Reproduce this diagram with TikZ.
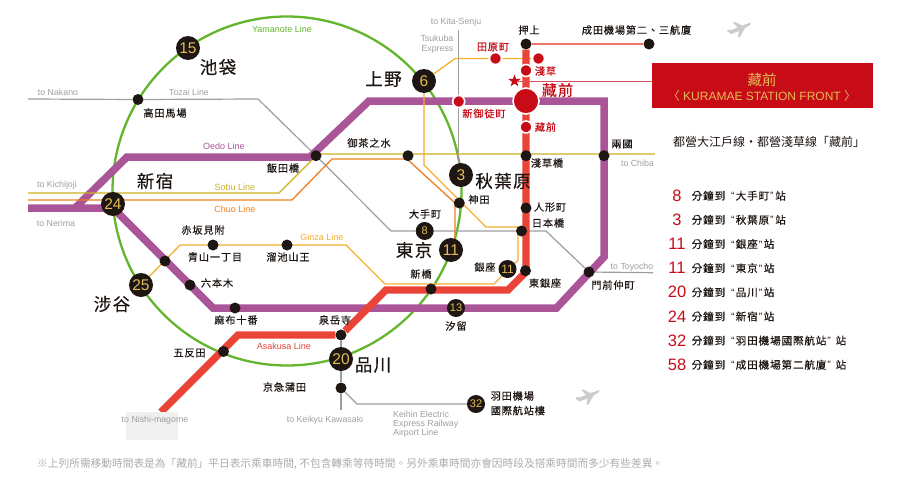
\documentclass[tikz,border=0pt]{standalone}
\usepackage{fontspec}
\setmainfont{Liberation Sans}
\newfontfamily\cjkfont[LetterSpace=8,FakeBold=0.4]{Noto Sans CJK TC}
\newfontfamily\cjkplain{Noto Sans CJK TC}
\usetikzlibrary{shapes.geometric,positioning,backgrounds}

\newcommand{\fsz}[1]{\fontsize{#1}{#1}\selectfont}
\newcommand{\oq}{\hspace{6pt}{\rmfamily “}\hspace{1pt}}
\newcommand{\cq}{\hspace{1pt}{\rmfamily ”}\hspace{1.5pt}}

\definecolor{oedocol}{HTML}{AA5598}
\definecolor{asakusacol}{HTML}{EA4338}
\definecolor{yamanotecol}{HTML}{62B52D}
\definecolor{sobucol}{HTML}{C9B11F}
\definecolor{chuocol}{HTML}{EE7F1E}
\definecolor{ginzacol}{HTML}{F6AE2D}
\definecolor{tozaicol}{HTML}{9E9E9E}
\definecolor{stopcol}{HTML}{1E1613}
\definecolor{kuramaecol}{HTML}{C70B17}
\definecolor{goldcol}{HTML}{E3BC55}
\definecolor{notecol}{HTML}{ABABAB}

\tikzset{
  trackline/.style={line width=#1, line join=miter},
  stop/.style={circle, fill=stopcol, inner sep=0pt, minimum size=11pt},
  redstop/.style={circle, fill=kuramaecol, draw=white, line width=1.6pt, inner sep=0pt, minimum size=#1},
  minutestop/.style={circle, fill=stopcol, text=goldcol, inner sep=0pt, font=\fsz{15.5}, minimum size=24pt},
  smallminute/.style={minutestop, font=\fsz{11}, minimum size=18pt},
  arealabel/.style={text=stopcol, inner sep=0pt, font=\fsz{17.5}\cjkfont},
  stoplabel/.style={text=stopcol, inner sep=0pt, font=\fsz{10.2}\cjkfont},
  redlabel/.style={text=kuramaecol, inner sep=0pt, font=\fsz{10.2}\cjkfont},
  grayname/.style={text=tozaicol, inner sep=0pt, font=\fsz{8.8}},
  linename/.style={inner sep=0pt, font=\fsz{9}},
  planeicon/.pic={
    \fill[gray!40] (12,-6.5) -- (3,-3.5) -- (-4,-7) -- (-6,-6.5) -- (-1.5,-1.5) -- (-7.5,1)
      -- (-11,0.5) -- (-12,2) -- (-8,5) -- (0,2) -- (-1,8) -- (1,8) -- (6,-1) -- (11,-4) -- cycle;
  }
}

\begin{document}
\begin{tikzpicture}[x=1pt,y=-1pt]
\useasboundingbox (0,0) rectangle (900,485);

% Stations with minutes
\node[minutestop] (ikebukuro) at (188,48) {15};
\node[minutestop] (shinjuku) at (113,204) {24};
\node[minutestop] (shibuya) at (141,285) {25};
\node[minutestop] (shinagawa) at (341,359) {20};
\node[minutestop] (ueno) at (424,81) {6};
\node[minutestop] (akihabara) at (461,175) {3};
\node[minutestop] (tokyo) at (451,250) {11};
\node[smallminute] (otemachi) at (424.7,231) {8};
\node[smallminute, font=\fsz{12}] (ginza) at (507.5,269) {11};
\node[smallminute] (shiodome) at (456,308) {13};
\node[smallminute] (haneda) at (476,404) {32};

% Plain stations
\foreach \n/\x/\y in {takadanobaba/138/99.5, iidabashi/316/155.7, ochanomizu/408/155.7,
    asakusabashi/526/155.7, ryogoku/604/155.7, kanda/459.3/203, ningyocho/526/208,
    nihombashi/521.5/231, higashiginza/525.5/270.7, shimbashi/431/289, monzen/589/272,
    sengakuji/341/335, gotanda/223.5/351.5, kamata/341/388, azabu/235/308,
    roppongi/190/285, aoyama/165/261, akasaka/213/245, tameike/287/245,
    oshiage/526/44, naritastop/649/44}
  \node[stop] (\n) at (\x,\y) {};

% Red stations around Kuramae
\node[redstop=26pt] (kuramaebig) at (526,101) {};
\node[redstop=12pt] (kuramaesmall) at (526,127) {};
\node[redstop=12pt] (asakusa) at (526,70.5) {};
\node[redstop=12pt] (shinokachi) at (458.7,101.5) {};
\node[redstop=12pt] (tawaramachi) at (495.5,58.5) {};
\node[redstop=12pt] (asakusaginza) at (538.5,58.5) {};
\node[star, star points=5, star point ratio=2.5, fill=kuramaecol, inner sep=0pt, minimum size=13pt] (kuramaestar) at (514.5,81) {};

% Bend points
\coordinate (oedoa) at (28,208);
\coordinate (oedob) at (75,208);
\coordinate (oedoc) at (127,157);
\coordinate (oedod) at (310,157);
\coordinate (oedoe) at (369,101);
\coordinate (oedof) at (604,101);
\coordinate (oedog) at (604,257);
\coordinate (oedoh) at (556.5,308);
\coordinate (oedoi) at (213,308);
\coordinate (oedoj) at (113,208);
\coordinate (asakusaa) at (161,412);
\coordinate (asakusab) at (238,335);
\coordinate (asakusac) at (386,290);
\coordinate (asakusad) at (508,290);
\coordinate (asakusae) at (526,272);
\coordinate (sobua) at (28,193);
\coordinate (sobub) at (279,193);
\coordinate (sobuc) at (318,154);
\coordinate (sobud) at (655,154);
\coordinate (chuoa) at (28,200);
\coordinate (chuob) at (292,200);
\coordinate (chuoc) at (332,159);
\coordinate (chuod) at (407,159);
\coordinate (chuoe) at (455,203);
\coordinate (chuof) at (455,245);
\coordinate (ginzaa) at (180,245);
\coordinate (ginzab) at (346,245);
\coordinate (ginzac) at (385,284);
\coordinate (ginzad) at (494,284);
\coordinate (ginzae) at (518,260);
\coordinate (ginzaf) at (518,227);
\coordinate (ginzag) at (486,227);
\coordinate (ginzah) at (424,165);
\coordinate (ginzai) at (455,58.5);
\coordinate (tozaia) at (28,99);
\coordinate (tozaib) at (258,99);
\coordinate (tozaic) at (391,231);
\coordinate (tozaid) at (546,231);
\coordinate (tozaie) at (653,272.7);
\coordinate (kitasenju) at (458.7,30);
\coordinate (txend) at (458.7,170);
\coordinate (keikyuend) at (341,410);
\coordinate (airporta) at (357,404);

% Draw the lines under the stations
\begin{scope}[on background layer]
  \draw[yamanotecol, line width=2.3pt] (287,191) circle (174.5);
  \draw[tozaicol, line width=1.2pt] (tozaia) -- (takadanobaba) -- (tozaib) -- (iidabashi) -- (tozaic) -- (otemachi) -- (nihombashi) -- (tozaid) -- (monzen) -- (tozaie);
  \draw[tozaicol, line width=1.2pt] (kitasenju) -- (shinokachi) -- (txend);
  \draw[tozaicol, line width=1.2pt] (sengakuji) -- (shinagawa) -- (kamata) -- (keikyuend);
  \draw[tozaicol, line width=1.2pt] (kamata) -- (airporta) -- (haneda);
  \draw[trackline=7.5pt, oedocol] (oedoa) -- (oedob) -- (oedoc) -- (oedod) -- (oedoe) -- (oedof) -- (oedog) -- (oedoh) -- (oedoi) -- (oedoj) -- (oedob);
  \draw[trackline=1.3pt, chuocol] (chuoa) -- (chuob) -- (chuoc) -- (chuod) -- (chuoe) -- (chuof);
  \draw[trackline=1.3pt, sobucol] (sobua) -- (sobub) -- (sobuc) -- (sobud);
  \draw[trackline=1.3pt, ginzacol] (shibuya) -- (ginzaa) -- (ginzab) -- (ginzac) -- (ginzad) -- (ginzae) -- (ginzaf) -- (ginzag) -- (ginzah) -- (ueno) -- (ginzai) -- (tawaramachi) -- (asakusaginza);
  \draw[trackline=7.2pt, asakusacol] (asakusaa) -- (asakusab) -- (sengakuji) -- (asakusac) -- (asakusad) -- (asakusae) -- (oshiage);
  \draw[asakusacol!75!white, line width=1.1pt] (oshiage) -- (naritastop);
\end{scope}

% Kuramae banner and the line to its star
\node[fill=kuramaecol, inner sep=0pt, minimum width=221pt, minimum height=45pt] (banner) at (762.5,85.5) {};
\draw[kuramaecol!70!white, line width=1pt] (kuramaestar) -- (kuramaestar -| banner.west);
\node[text=goldcol, inner sep=0pt, font=\fsz{14.5}\cjkplain] (bannerzh) at (762,79.5) {藏前};
\node[text=goldcol, inner sep=0pt, font=\fsz{12}] (banneren) at (762,96) {{\cjkplain〈} KURAMAE STATION FRONT {\cjkplain〉}};

% Gray patch at the end of the Asakusa line
\node[fill=black!6, inner sep=0pt, minimum width=52pt, minimum height=28pt] (nishibox) at (152,426) {};

% Area names
\node[arealabel] (lblikebukuro) at (218,67) {池袋};
\node[arealabel] (lblueno) at (383.5,79) {上野};
\node[arealabel] (lblshinjuku) at (155,181) {新宿};
\node[arealabel] (lblakihabara) at (503,181) {秋葉原};
\node[arealabel] (lbltokyo) at (414,250) {東京};
\node[arealabel] (lblshibuya) at (112,304) {涉谷};
\node[arealabel] (lblshinagawa) at (373,365) {品川};

% Station names
\foreach \n/\x/\y/\t in {lbltakada/165/113/高田馬場, lbliidabashi/283/168/飯田橋,
    lblakasaka/203/230/赤坂見附, lblaoyama/215/257/青山一丁目, lbltameike/288/257/溜池山王,
    lblroppongi/217/283/六本木, lblazabu/236/320/麻布十番, lblgotanda/189.5/353/五反田,
    lblkamata/284.5/387/京急蒲田, lblsengakuji/335/320/泉岳寺, lblshimbashi/421/274/新橋,
    lblginza/485/267/銀座, lblhigashi/545/283/東銀座, lblmonzen/613/285/門前仲町,
    lblshiodome/456/326/汐留, lblochanomizu/369/143/御茶之水, lblkanda/479/199.5/神田,
    lblotemachi/425/214/大手町, lblningyo/550/207/人形町, lblnihom/548/223/日本橋,
    lblasakusabashi/547/163/淺草橋, lblryogoku/622/144/兩國, lbloshiage/529/30/押上,
    lblnarita/636.5/30/成田機場第二、三航廈}
  \node[stoplabel] (\n) at (\x,\y) {\t};
\node[stoplabel, align=left, anchor=north west] (lblhaneda) at (490.5,391) {羽田機場\\[4.5pt]國際航站樓};

% Red station names
\foreach \n/\x/\y/\t in {lbltawara/493/47/田原町, lblasakusa/545.5/71/淺草,
    lblkuramae/545.5/127/藏前, lblshinokachi/484/113.5/新御徒町}
  \node[redlabel] (\n) at (\x,\y) {\t};
\node[redlabel, font=\fsz{15}\cjkfont] (lblkuramaebig) at (557.5,90) {藏前};

% Line names and directions
\node[linename, yamanotecol] (lblyamanote) at (282,29.5) {Yamanote Line};
\node[linename, oedocol] (lbloedo) at (224,146) {Oedo Line};
\node[linename, sobucol] (lblsobu) at (235,187) {Sobu Line};
\node[linename, chuocol] (lblchuo) at (235,209.5) {Chuo Line};
\node[linename, ginzacol] (lblginzaline) at (322,237) {Ginza Line};
\node[linename, asakusacol] (lblasakusaline) at (284,346.5) {Asakusa Line};
\foreach \n/\x/\y/\t in {lblnakano/58/92.5/to Nakano, lbltozai/189/92/Tozai Line,
    lblkichijoji/57/185/to Kichijoji, lblnerima/56/223/to Nerima,
    lblnishi/155/420.5/to Nishi-magome, lblkawasaki/325/420.5/to Keikyu Kawasaki,
    lblkita/456/22.5/to Kita-Senju, lblchiba/637.5/163/to Chiba, lbltoyocho/632/267/to Toyocho}
  \node[grayname] (\n) at (\x,\y) {\t};
\node[grayname, align=right, anchor=east] (lbltsukuba) at (453.5,44) {Tsukuba\\[1.5pt]Express};
\node[grayname, align=left, anchor=north west] (lblkeihin) at (393,411) {Keihin Electric\\Express Railway\\Airport Line};

% Planes
\pic at (739,29) {planeicon};
\pic at (587.5,396.5) {planeicon};

% Travel time list
\node[text=stopcol, inner sep=0pt, font=\fsz{12}\cjkplain, anchor=west] (listhead) at (673,142) {都營大江戶線・都營淺草線「藏前」};
\foreach \num/\txt [count=\i] in {8/分鐘到\oq 大手町\cq 站, 3/分鐘到\oq 秋葉原\cq 站, 11/分鐘到\oq 銀座\cq 站,
    11/分鐘到\oq 東京\cq 站, 20/分鐘到\oq 品川\cq 站, 24/分鐘到\oq 新宿\cq 站,
    32/分鐘到\oq 羽田機場國際航站\cq\ 站, 58/分鐘到\oq 成田機場第二航廈\cq\ 站} {
  \pgfmathsetmacro{\rowy}{195.7+24.15*(\i-1)}
  \node[text=kuramaecol, inner sep=0pt, font=\fsz{16.5}] (num\i) at (677,\rowy) {\num};
  \node[text=stopcol, inner sep=0pt, anchor=west, font=\fsz{10.6}\cjkfont] (txt\i) at (691.5,\rowy) {\txt};
}

% Footnote
\node[text=notecol, inner sep=0pt, anchor=west, font=\fsz{10.7}\cjkplain] (footnote) at (37,463.5) {※上列所需移動時間表是為「藏前」平日表示乘車時間, 不包含轉乘等待時間。另外乘車時間亦會因時段及搭乘時間而多少有些差異。};

\end{tikzpicture}
\end{document}
